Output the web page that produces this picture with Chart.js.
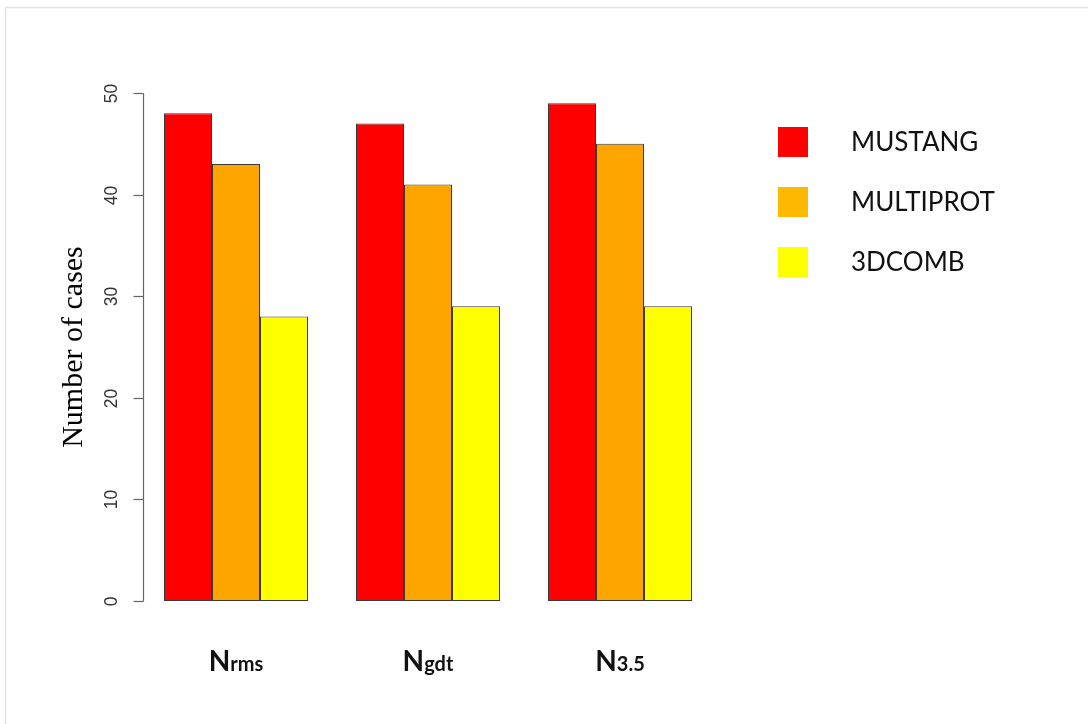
<!DOCTYPE html>
<html>
<head>
<meta charset="utf-8">
<script src="https://cdn.jsdelivr.net/npm/chart.js@4"></script>
<style>
  html, body { margin: 0; padding: 0; background: #fff; }
  #wrap { width: 1088px; height: 724px; }
</style>
</head>
<body>
<div id="wrap"><canvas id="c" width="1088" height="724"></canvas></div>
<script>
// ---- data ----
const categories = ['Nrms', 'Ngdt', 'N3.5'];
const catMain = ['N', 'N', 'N'];
const catSub = ['rms', 'gdt', '3.5'];
const seriesNames = ['MUSTANG', 'MULTIPROT', '3DCOMB'];
const mustang = [48, 47, 49];
const multiprot = [43, 41, 45];
const comb3d = [28, 29, 29];
const yTicks = [0, 10, 20, 30, 40, 50];
const yTitle = 'Number of cases';

// ---- styles ----
const barColors = ['#FF0000', '#FFA500', '#FFFF00'];
const legendColors = ['#FF0000', '#FFB900', '#FFFF00'];

const overlay = {
  id: 'overlay',
  beforeDraw(chart) {
    const ctx = chart.ctx;
    ctx.save();
    ctx.fillStyle = '#fff';
    ctx.fillRect(0, 0, chart.width, chart.height);
    // light frame
    ctx.strokeStyle = '#e4e4e4';
    ctx.lineWidth = 1.5;
    ctx.beginPath();
    ctx.moveTo(5.5, chart.height);
    ctx.lineTo(5.5, 7.5);
    ctx.lineTo(chart.width, 7.5);
    ctx.stroke();
    ctx.restore();
  },
  afterDraw(chart) {
    const ctx = chart.ctx;
    const y = chart.scales.y;
    const x = chart.scales.x;
    const ca = chart.chartArea;
    const axX = ca.left + 3.5;
    ctx.save();
    // y axis line
    ctx.strokeStyle = '#666';
    ctx.lineWidth = 1.2;
    ctx.beginPath();
    ctx.moveTo(axX, Math.round(y.getPixelForValue(yTicks[0])) + 0.5);
    ctx.lineTo(axX, Math.round(y.getPixelForValue(yTicks[yTicks.length - 1])) + 0.5);
    ctx.stroke();
    // ticks + labels
    ctx.fillStyle = '#333';
    ctx.font = '17.5px "Liberation Sans", Arial, sans-serif';
    ctx.textAlign = 'center';
    ctx.textBaseline = 'middle';
    yTicks.forEach(v => {
      const py = Math.round(y.getPixelForValue(v)) + 0.5;
      ctx.beginPath();
      ctx.moveTo(axX - 10, py);
      ctx.lineTo(axX, py);
      ctx.stroke();
      ctx.save();
      ctx.translate(axX - 31, py);
      ctx.rotate(-Math.PI / 2);
      ctx.fillText(String(v), 0, 0);
      ctx.restore();
    });
    // y title
    ctx.save();
    ctx.fillStyle = '#000';
    ctx.font = '30px "Liberation Serif", "Times New Roman", serif';
    ctx.translate(axX - 69, (ca.top + ca.bottom) / 2);
    ctx.rotate(-Math.PI / 2);
    ctx.textAlign = 'center';
    ctx.textBaseline = 'middle';
    ctx.fillText(yTitle, 0, 0);
    ctx.restore();
    // x category labels (N + smaller suffix)
    ctx.fillStyle = '#111';
    ctx.textAlign = 'left';
    ctx.textBaseline = 'alphabetic';
    const baseY = ca.bottom + 70;
    categories.forEach((c, i) => {
      const cx = x.getPixelForValue(i);
      const fMain = 'bold 28px Lato, "Open Sans", sans-serif';
      const fSub = 'bold 20px Lato, "Open Sans", sans-serif';
      ctx.font = fMain;
      const wm = ctx.measureText(catMain[i]).width;
      ctx.font = fSub;
      const ws = ctx.measureText(catSub[i]).width;
      const start = cx - (wm + ws) / 2;
      ctx.font = fMain;
      ctx.fillText(catMain[i], start, baseY);
      ctx.font = fSub;
      ctx.fillText(catSub[i], start + wm, baseY);
    });
    // legend
    ctx.font = '26px Lato, "Open Sans", sans-serif';
    ctx.textBaseline = 'middle';
    chart.data.datasets.forEach((ds, i) => {
      const cy = 142 + i * 60;
      ctx.fillStyle = legendColors[i];
      ctx.fillRect(778, cy - 15, 30, 30);
      ctx.fillStyle = '#111';
      ctx.fillText(ds.label, 851, cy + 1);
    });
    ctx.restore();
  }
};

new Chart(document.getElementById('c'), {
  type: 'bar',
  data: {
    labels: categories,
    datasets: [
      { label: seriesNames[0], data: mustang, backgroundColor: barColors[0] },
      { label: seriesNames[1], data: multiprot, backgroundColor: barColors[1] },
      { label: seriesNames[2], data: comb3d, backgroundColor: barColors[2] }
    ].map(d => Object.assign(d, { borderColor: '#3a3a3a', borderWidth: 1, borderSkipped: false, categoryPercentage: 0.75, barPercentage: 1.0 }))
  },
  options: {
    responsive: false,
    animation: false,
    devicePixelRatio: 1,
    layout: { padding: { left: 140, right: 372, top: 93, bottom: 123 } },
    plugins: { legend: { display: false }, tooltip: { enabled: false } },
    scales: {
      x: { display: false, offset: true },
      y: { display: false, min: 0, max: 50 }
    }
  },
  plugins: [overlay]
});
</script>
</body>
</html>
